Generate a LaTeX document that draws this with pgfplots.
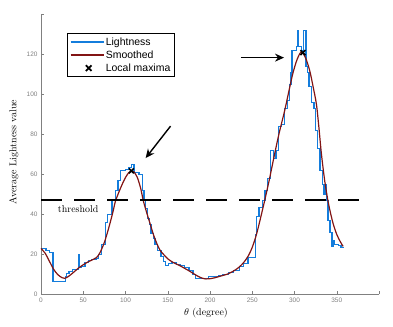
\documentclass[border=0pt]{standalone}
\usepackage{fontspec}
\usepackage{pgfplots}
\pgfplotsset{compat=1.18}
\usetikzlibrary{arrows.meta}
\newfontfamily\arial{Liberation Sans}
\definecolor{mblue}{RGB}{20,125,220}
\definecolor{mred}{RGB}{130,20,20}
\definecolor{tickgray}{RGB}{128,128,128}
\pgfplotsset{
  lineleg/.style={legend image code/.code={\draw[##1] (0bp,0bp) -- (33bp,0bp);}},
  markleg/.style={legend image code/.code={\draw[##1, mark size=4bp, line width=1.8bp] plot coordinates {(18bp,0bp)};}},
}
\begin{document}
\begin{tikzpicture}
\path[use as bounding box] (-41bp,-32.7bp) rectangle (352bp,294.3bp);
\begin{axis}[
  at={(0,0)}, anchor=south west,
  scale only axis, width=338bp, height=279.6bp,
  xmin=0, xmax=400, ymin=0, ymax=140,
  axis lines*=left,
  tick align=inside,
  major tick length=3bp,
  xtick={0,50,...,400}, xticklabels={0,50,100,150,200,250,300,350,{}},
  ytick={0,20,...,140}, yticklabels={0,20,40,60,80,100,120,{}},
  axis line style={tickgray, line width=0.5bp},
  tick style={tickgray, line width=0.5bp},
  ticklabel style={font=\arial\fontsize{6.5}{7}\selectfont, text=tickgray},
  /pgf/number format/assume math mode=true,
  xlabel={$\theta$ (degree)},
  ylabel={Average Lightness value},
  label style={font=\fontsize{10}{12}\selectfont},
  xlabel style={at={(axis description cs:0.488,0)}, anchor=center, yshift=-19bp},
  ylabel style={at={(axis description cs:-0.08,0.509)}, anchor=center},
  legend style={at={(axis description cs:0.077,0.933)}, anchor=north west,
    draw=black, line width=1bp, font=\arial\fontsize{10.5}{12}\selectfont,
    inner xsep=2.5bp, inner ysep=2bp, row sep=1bp,
    nodes={inner sep=1.5bp}},
  legend cell align=left,
  clip=false,
]
\addplot[mblue, line width=1.3bp, lineleg]
coordinates {
(0,23)(6,23)(6,22)(10,22)(10,21)(14.2,21)(14.2,6.3)(29,6.3)(29,9)(30,9)(30,10.5)(33,10.5)(33,11.5)(37,11.5)(37,12.5)(44.5,12.5)(44.5,20)(45,20)(45,13.5)(48,13.5)(48,14)(52,14)(52,16)(56,16)(56,17)(60,17)(60,17.5)(65,17.5)(65,18)(68,18)(68,20)(72,20)(72,25)(76,25)(76,36)(79,36)(79,40)(84,40)(84,47)(88,47)(88,52)(91,52)(91,57)(94,57)(94,62)(100,62)(100,62.5)(104,62.5)(104,63.5)(107,63.5)(107,65)(110,65)(110,61)(116,61)(116,60)(120.5,60)(120.5,52)(122,52)(122,47)(124,47)(124,43)(126,43)(126,38)(128,38)(128,35)(130,35)(130,30.5)(133,30.5)(133,28)(135,28)(135,25)(138,25)(138,22)(142,22)(142,19)(145,19)(145,16.5)(147,16.5)(147,14.5)(151,14.5)(151,15.5)(155,15.5)(155,16)(160,16)(160,15)(165,15)(165,14.5)(170,14.5)(170,13.5)(175,13.5)(175,12)(180,12)(180,10)(183,10)(183,8)(198,8)(198,9)(210,9)(210,9.5)(215,9.5)(215,10)(222,10)(222,11)(228,11)(228,12)(235,12)(235,14)(240,14)(240,15.5)(245,15.5)(245,18.5)(254,18.5)(254,30)(255,30)(255,38.8)(258,38.8)(258,43.5)(262,43.5)(262,47)(265,47)(265,52)(268,52)(268,58)(271.7,58)(271.7,72)(275,72)(275,68)(278,68)(278,72)(281,72)(281,84)(285,84)(285,85)(288,85)(288,93)(292,93)(292,97)(294,97)(294,105)(296,105)(296,111)(297,111)(297,122)(302,122)(302,124)(303.5,124)(303.5,132)(305,132)(305,124)(308,124)(308,122)(311,122)(311,132)(313.5,132)(313.5,114)(315,114)(315,111)(317,111)(317,104)(320,104)(320,96)(323,96)(323,93)(325,93)(325,82)(327,82)(327,73)(330,73)(330,62)(333,62)(333,55)(334.5,55)(334.5,50)(336,50)(336,55)(337.5,55)(337.5,47)(339.5,47)(339.5,37)(342,37)(342,31)(344.5,31)(344.5,24)(345.5,24)(345.5,27)(347,27)(347,25)(352,25)(352,24.5)(355,24.5)(355,23.5)(358,23.5)
};
\addlegendentry{Lightness}
\addplot[mred, line width=1.2bp, smooth, lineleg]
coordinates {
(0,23)(5,20.5)(10,16.5)(15,12.5)(20,9.8)(25,8.3)(28,8)(32,8.8)(38,10.8)(44,13)(50,14.8)(56,16.3)(62,17.5)(66,18.5)(70,21)(75,26)(80,33)(85,41)(88,46.5)(92,51)(96,55)(100,58.5)(104,61)(107,61.8)(110,61.3)(114,58.5)(118,53)(121,47)(125,41)(129,35.5)(133,30)(137,25.5)(141,22)(145,20)(150,17.8)(155,16.3)(160,15.2)(165,14.2)(170,13)(175,11.8)(180,10.5)(185,9.2)(190,8.2)(195,7.7)(200,7.8)(205,8.2)(210,8.8)(215,9.4)(220,10)(225,11)(230,12.2)(235,13.8)(240,16)(245,19)(250,23.5)(255,30)(260,38.5)(265,47.5)(270,57)(276.6,70.5)(282,81)(288.4,92)(293,101)(298,110.5)(303,117.5)(308,121.3)(313,118.5)(318,112)(322,104)(326,95)(329,83)(331.8,70.5)(335.7,57)(339.5,47)(343,40)(346,35)(350,30)(354,26.5)(357.5,24)
};
\addlegendentry{Smoothed}
\addplot[only marks, mark=x, mark size=3.5bp, line width=1.6bp, black, markleg]
coordinates {(107,61.8) (310,121)};
\addlegendentry{Local maxima}
\addplot[black, line width=2.2bp, dash pattern=on 21bp off 12bp, forget plot]
coordinates {(0,47.2) (386,47.2)};
\node[font=\fontsize{10}{12}\selectfont, anchor=center] at (axis cs:44,42.5) {threshold};
\draw[-{Stealth[length=9bp,width=8bp]}, line width=1.4bp] (axis cs:153.3,84.2) -- (axis cs:123.8,68.2);
\draw[-{Stealth[length=9bp,width=8bp]}, line width=1.4bp] (axis cs:236.4,118.5) -- (axis cs:287.6,118.5);
\end{axis}
\end{tikzpicture}
\end{document}
